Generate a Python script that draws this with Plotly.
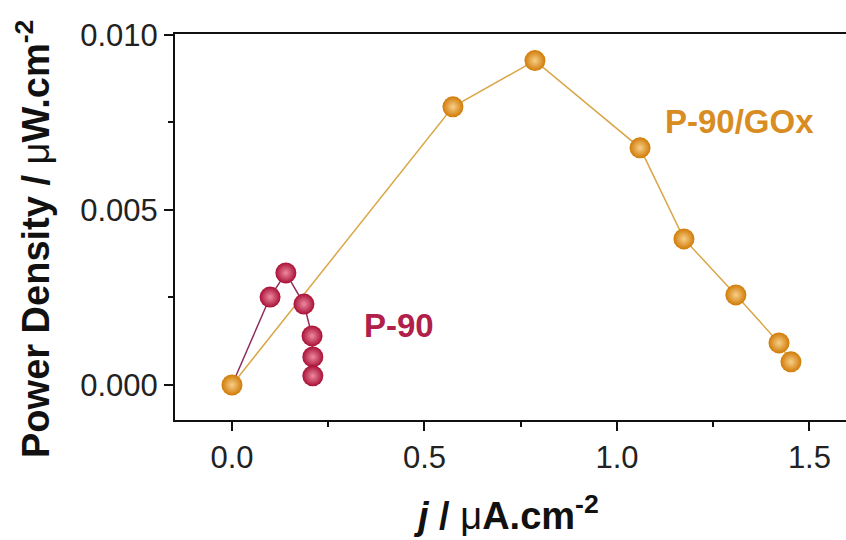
import plotly.graph_objects as go

# P-90/GOx series
gox_j = [0.0, 0.574, 0.787, 1.060, 1.174, 1.309, 1.421, 1.452]
gox_p = [0.0, 0.00794, 0.00926, 0.00677, 0.00417, 0.00257, 0.00120, 0.00066]

# P-90 series
p90_j = [0.0, 0.099, 0.140, 0.187, 0.208, 0.210, 0.210]
p90_p = [0.0, 0.00251, 0.00320, 0.00231, 0.00140, 0.00080, 0.00026]

x_ticks = [0.0, 0.5, 1.0, 1.5]
x_tick_labels = ["0.0", "0.5", "1.0", "1.5"]
y_ticks = [0.0, 0.005, 0.010]
y_tick_labels = ["0.000", "0.005", "0.010"]

ORANGE_LINE = "#D9A648"
RED_LINE = "#8E2E5C"
FONT = "Liberation Sans, Arial, sans-serif"

fig = go.Figure()

fig.add_trace(go.Scatter(
    x=p90_j, y=p90_p, mode="lines",
    line=dict(color=RED_LINE, width=1.5), showlegend=False, hoverinfo="skip"))
fig.add_trace(go.Scatter(
    x=gox_j, y=gox_p, mode="lines+markers",
    line=dict(color=ORANGE_LINE, width=1.5),
    marker=dict(size=21, color="#D07A05",
                gradient=dict(type="radial", color="#F8CF8A"),
                line=dict(width=0)),
    showlegend=False))
fig.add_trace(go.Scatter(
    x=p90_j[1:], y=p90_p[1:], mode="markers",
    marker=dict(size=21, color="#A80F35",
                gradient=dict(type="radial", color="#EE8AA2"),
                line=dict(width=0)),
    showlegend=False))

fig.add_annotation(x=0.338, y=0.00171, xref="x", yref="y", text="<b>P-90</b>",
                   showarrow=False, xanchor="left",
                   font=dict(family=FONT, size=33, color="#B0204A"))
fig.add_annotation(x=1.119, y=0.00751, xref="x", yref="y", text="<b>P-90/GOx</b>",
                   showarrow=False, xanchor="left",
                   font=dict(family=FONT, size=33, color="#D98C22"))

# axis titles
fig.add_annotation(x=0.493, y=-0.241, xref="paper", yref="paper",
                   text="<b><i>j</i> / </b>μ<b>A.cm<sup>-2</sup></b>",
                   showarrow=False, xanchor="center", yanchor="middle",
                   font=dict(family=FONT, size=38, color="#111"))
fig.add_annotation(x=-0.2116, y=0.469, xref="paper", yref="paper",
                   text="<b>Power Density / </b>μ<b>W.cm<sup>-2</sup></b>",
                   textangle=-90, showarrow=False, xanchor="center", yanchor="middle",
                   font=dict(family=FONT, size=38, color="#111"))

fig.update_xaxes(
    range=[-0.148, 1.595], tickvals=x_ticks, ticktext=x_tick_labels,
    showgrid=False, zeroline=False, showline=True, linecolor="#111", linewidth=2,
    mirror=True, ticks="outside", ticklen=9, tickwidth=2, tickcolor="#111",
    minor=dict(tickvals=[0.25, 0.75, 1.25], ticks="outside", ticklen=5, tickwidth=2, tickcolor="#111"),
    tickfont=dict(family=FONT, size=31, color="#222"))
fig.update_yaxes(
    range=[-0.001, 0.01002], tickvals=y_ticks, ticktext=y_tick_labels,
    showgrid=False, zeroline=False, showline=True, linecolor="#111", linewidth=2,
    ticks="outside", ticklen=9, tickwidth=2, tickcolor="#111",
    minor=dict(tickvals=[0.0025, 0.0075], ticks="outside", ticklen=5, tickwidth=2, tickcolor="#111"),
    tickfont=dict(family=FONT, size=31, color="#222"))

fig.update_layout(
    width=846, height=540,
    margin=dict(l=175, r=0, t=34, b=120),
    paper_bgcolor="white", plot_bgcolor="white",
    showlegend=False)

fig.write_html("out.html")
